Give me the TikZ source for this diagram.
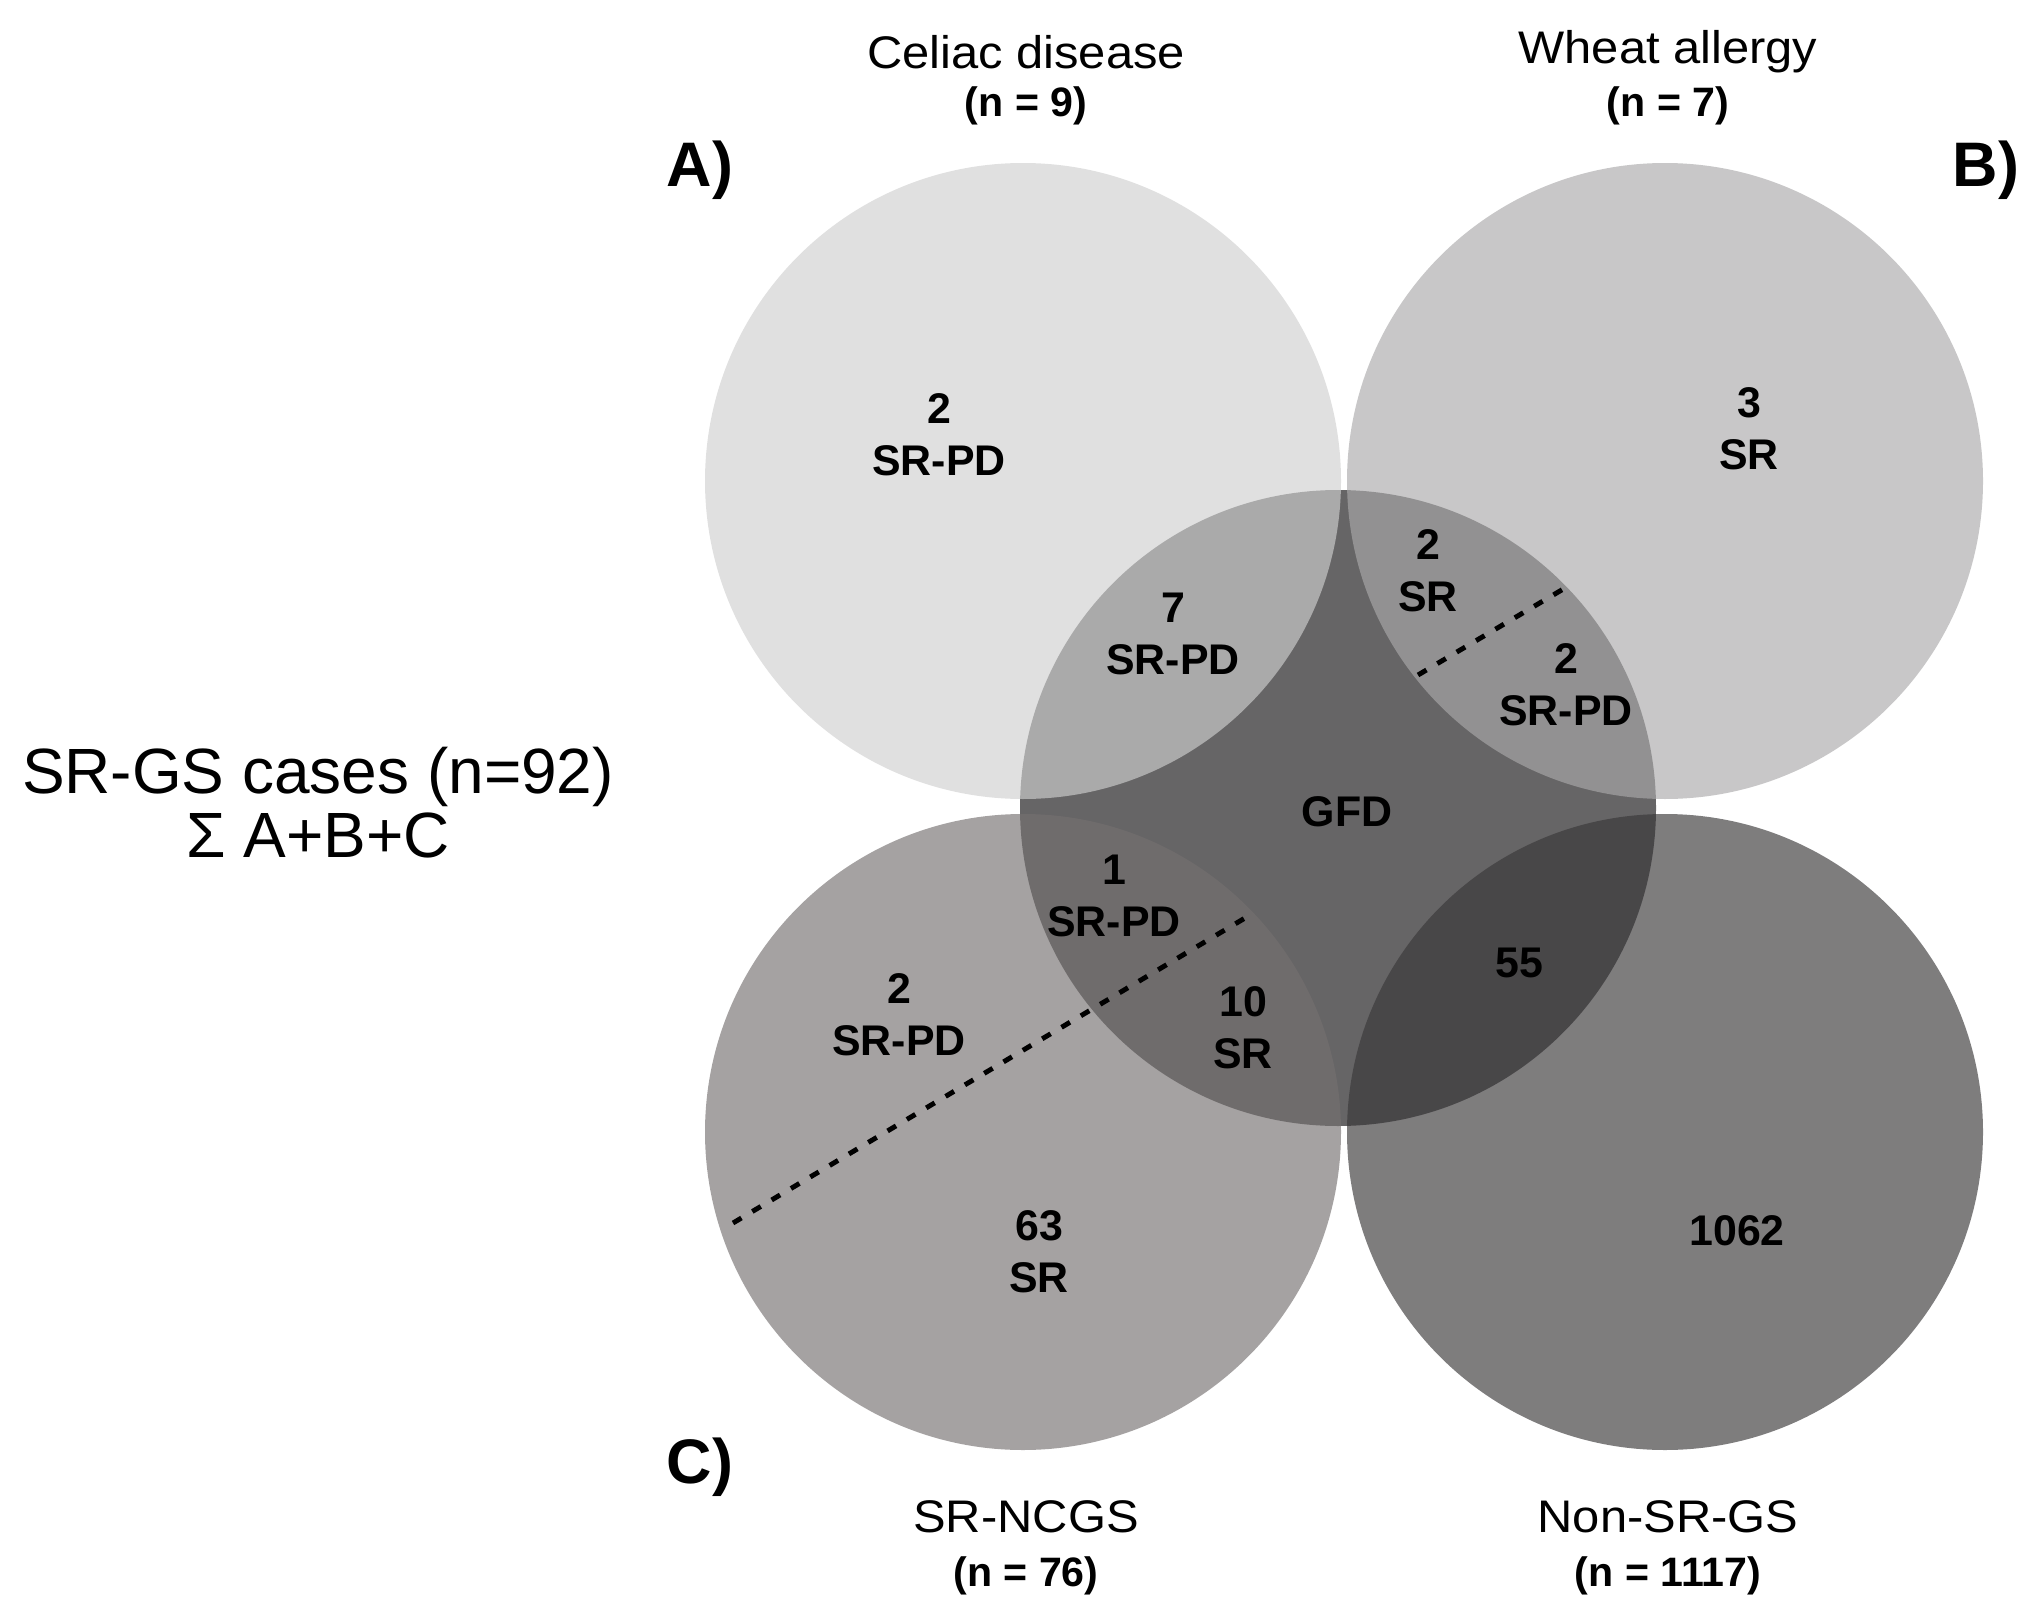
\documentclass[tikz,border=0pt]{standalone}
\usepackage{fontspec}
\setmainfont{Liberation Sans}
\newfontfamily\widefont[FakeStretch=1.07]{Liberation Sans}
\usepackage{tikz}
\usetikzlibrary{positioning}
\definecolor{gfdgray}{RGB}{102,101,102}
\definecolor{celiacgray}{RGB}{207,207,207}
\definecolor{wheatgray}{RGB}{170,169,170}
\definecolor{ncgsgray}{RGB}{117,112,112}
\definecolor{nongray}{RGB}{57,55,56}

\begin{document}
\begin{tikzpicture}[x=0.1mm, y=-0.1mm,
			set/.style={circle, inner sep=0pt, minimum size=63.6mm, fill opacity=0.65},
			count/.style={align=center, inner sep=0pt, font=\fontsize{12.2}{14.8}\selectfont\bfseries},
			title/.style={inner sep=0pt, font=\widefont\fontsize{13}{15}\selectfont},
			size/.style={inner sep=0pt, font=\fontsize{11.7}{14}\selectfont\bfseries},
			tag/.style={inner sep=0pt, anchor=base, font=\fontsize{17.9}{20}\selectfont\bfseries},
			total/.style={inner sep=0pt, font=\fontsize{18.2}{20}\selectfont},
			split/.style={line width=1.4pt, dash pattern=on 2.8pt off 3.6pt},
			]
			\useasboundingbox (0,0) rectangle (2036,1621);
			% sets
			\node[set, fill=gfdgray, fill opacity=1] (gfd) at (1338,808) {};
			\node[set, fill=celiacgray] (celiac) at (1023,481) {};
			\node[set, fill=wheatgray] (wheat) at (1665,481) {};
			\node[set, fill=ncgsgray] (ncgs) at (1023,1132) {};
			\node[set, fill=nongray] (nonsrgs) at (1665,1132) {};
			% dotted splits
			\coordinate (wheatsplitA) at (1418,675);
			\coordinate (wheatsplitB) at (1565,588);
			\coordinate (ncgssplitA) at (733,1223);
			\coordinate (ncgssplitB) at (1245,918);
			\draw[split] (wheatsplitA) -- (wheatsplitB);
			\draw[split] (ncgssplitA) -- (ncgssplitB);
			% titles
			\node[title] (celiactitle) at (1026,52) {Celiac disease};
			\node[size] (celiacsize) at (1026,106) {(n = 9)};
			\node[title] (wheattitle) at (1668,52) {Wheat allergy};
			\node[size] (wheatsize) at (1668,106) {(n = 7)};
			\node[title] (ncgstitle) at (1026,1517) {SR-NCGS};
			\node[size] (ncgssize) at (1026,1576) {(n = 76)};
			\node[title] (nontitle) at (1668,1517) {Non-SR-GS};
			\node[size] (nonsize) at (1668,1576) {(n = 1117)};
			\node[tag] (taga) at (700,187) {A)};
			\node[tag] (tagb) at (1986,187) {B)};
			\node[tag] (tagc) at (700,1483) {C)};
			\node[total] (srgs) at (318,777) {SR-GS cases (n=92)};
			\node[total] (srgssum) at (318,835) {Σ A+B+C};
			% counts
			\node[count] (celiaconly) at (939,435) {2\\SR-PD};
			\node[count] (wheatonly) at (1749,429) {3\\SR};
			\node[count] (celiacgfd) at (1173,634) {7\\SR-PD};
			\node[count] (wheatgfdsr) at (1428,571) {2\\SR};
			\node[count] (wheatgfdpd) at (1566,685) {2\\SR-PD};
			\node[count] (gfdonly) at (1347,812) {GFD};
			\node[count] (ncgsgfdpd) at (1114,896) {1\\SR-PD};
			\node[count] (ncgspd) at (899,1015) {2\\SR-PD};
			\node[count] (ncgsgfdsr) at (1243,1028) {10\\SR};
			\node[count] (nongfd) at (1519,963) {55};
			\node[count] (ncgssr) at (1039,1252) {63\\SR};
			\node[count] (nononly) at (1737,1231) {1062};
		\end{tikzpicture}
\end{document}
